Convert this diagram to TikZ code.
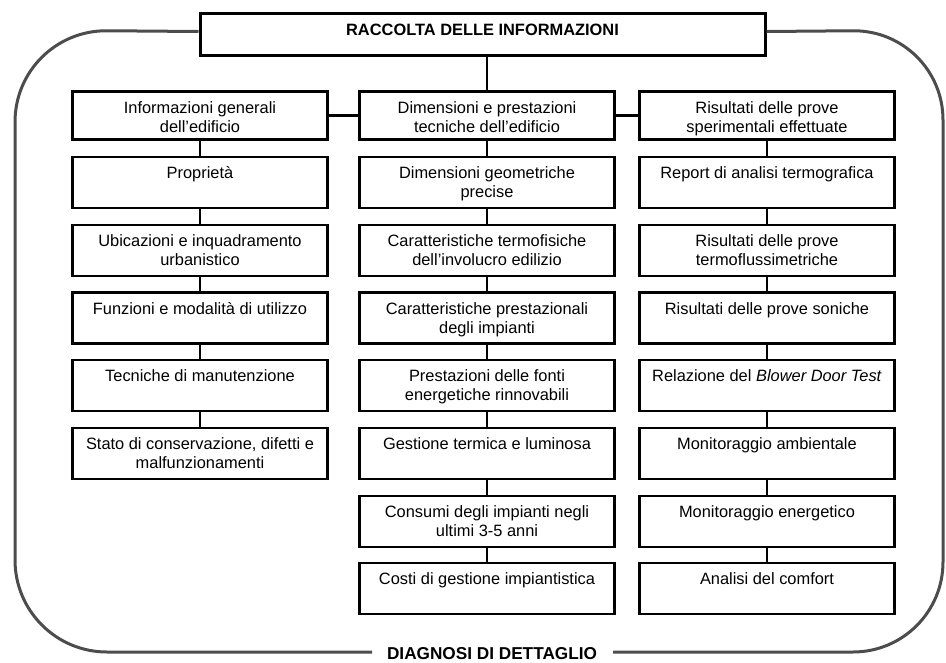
\documentclass[tikz,border=0pt]{standalone}
\usepackage{fontspec}
\setmainfont{Liberation Sans}
\newcommand{\bxt}[3]{\parbox[c][#1][t]{#2}{\centering\rule{0pt}{21.5pt}#3\par}}
\newcommand{\cb}[1]{\bxt{51pt}{255pt}{#1}}
\begin{document}
\begin{tikzpicture}[x=1pt,y=-1pt,
  bx/.style={draw=black, line width=2.2pt, inner sep=0pt, anchor=north, fill=white,
    font=\fontsize{16.4}{19}\selectfont},
  hbx/.style={bx, line width=3pt},
  conn/.style={draw=black, line width=2pt},
  hconn/.style={draw=black, line width=3pt},
  frame/.style={draw=black!70, line width=3pt}]
\useasboundingbox (0,0) rectangle (946,662);
% title
\node[hbx] (title) at (482.5,12) {\bxt{42pt}{565pt}{\bfseries RACCOLTA DELLE INFORMAZIONI}};
% headers
\node[hbx] (h1) at (200,90) {\bxt{48pt}{255pt}{Informazioni generali\\dell’edificio}};
\node[hbx] (h2) at (487,90) {\bxt{48pt}{255pt}{Dimensioni e prestazioni\\tecniche dell’edificio}};
\node[hbx] (h3) at (767,90) {\bxt{48pt}{255pt}{Risultati delle prove\\sperimentali effettuate}};
% column 1
\node[bx] (a1) at (200,156)   {\cb{Proprietà}};
\node[bx] (a2) at (200,223.7) {\cb{Ubicazioni e inquadramento\\urbanistico}};
\node[bx] (a3) at (200,291.4) {\cb{Funzioni e modalità di utilizzo}};
\node[bx] (a4) at (200,359.1) {\cb{Tecniche di manutenzione}};
\node[bx] (a5) at (200,426.8) {\cb{Stato di conservazione, difetti e\\malfunzionamenti}};
% column 2
\node[bx] (b1) at (487,156)   {\cb{Dimensioni geometriche\\precise}};
\node[bx] (b2) at (487,223.7) {\cb{Caratteristiche termofisiche\\dell’involucro edilizio}};
\node[bx] (b3) at (487,291.4) {\cb{Caratteristiche prestazionali\\degli impianti}};
\node[bx] (b4) at (487,359.1) {\cb{Prestazioni delle fonti\\energetiche rinnovabili}};
\node[bx] (b5) at (487,426.8) {\cb{Gestione termica e luminosa}};
\node[bx] (b6) at (487,494.5) {\cb{Consumi degli impianti negli\\ultimi 3-5 anni}};
\node[bx] (b7) at (487,562.2) {\cb{Costi di gestione impiantistica}};
% column 3
\node[bx] (c1) at (767,156)   {\cb{Report di analisi termografica}};
\node[bx] (c2) at (767,223.7) {\cb{Risultati delle prove\\termoflussimetriche}};
\node[bx] (c3) at (767,291.4) {\cb{Risultati delle prove soniche}};
\node[bx] (c4) at (767,359.1) {\cb{Relazione del \textit{Blower Door Test}}};
\node[bx] (c5) at (767,426.8) {\cb{Monitoraggio ambientale}};
\node[bx] (c6) at (767,494.5) {\cb{Monitoraggio energetico}};
\node[bx] (c7) at (767,562.2) {\cb{Analisi del comfort}};
% bottom label
\node[font=\fontsize{17.2}{19}\selectfont\bfseries, inner sep=0pt, anchor=base] (diag) at (492,659) {DIAGNOSI DI DETTAGLIO};
% connectors
\draw[conn] (h2.north) -- (h2.north |- title.south);
\draw[hconn] (h1.east) -- (h2.west);
\draw[hconn] (h2.east) -- (h3.west);
\draw[conn] (h1.south) -- (a1.north);
\draw[conn] (a1.south) -- (a2.north);
\draw[conn] (a2.south) -- (a3.north);
\draw[conn] (a3.south) -- (a4.north);
\draw[conn] (a4.south) -- (a5.north);
\draw[conn] (h2.south) -- (b1.north);
\draw[conn] (b1.south) -- (b2.north);
\draw[conn] (b2.south) -- (b3.north);
\draw[conn] (b3.south) -- (b4.north);
\draw[conn] (b4.south) -- (b5.north);
\draw[conn] (b5.south) -- (b6.north);
\draw[conn] (b6.south) -- (b7.north);
\draw[conn] (h3.south) -- (c1.north);
\draw[conn] (c1.south) -- (c2.north);
\draw[conn] (c2.south) -- (c3.north);
\draw[conn] (c3.south) -- (c4.north);
\draw[conn] (c4.south) -- (c5.north);
\draw[conn] (c5.south) -- (c6.north);
\draw[conn] (c6.south) -- (c7.north);
% outer frame
\coordinate (fl) at (372,652);
\coordinate (fr) at (613,652);
\draw[frame, rounded corners=92pt] ([yshift=3pt]title.west) -- (15,30) -- (15,652) -- (fl);
\draw[frame, rounded corners=90pt] (fr) -- (943,652) -- (943,30) -- ([yshift=3pt]title.east);
\end{tikzpicture}
\end{document}
